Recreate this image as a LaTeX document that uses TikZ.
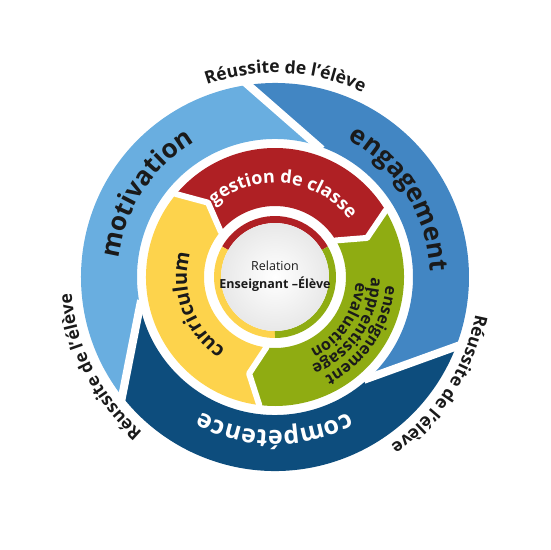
\documentclass[tikz,border=0pt]{standalone}
\usepackage{fontspec}
\setmainfont{Open Sans}
\usetikzlibrary{decorations.text,calc}

\definecolor{motivblue}{HTML}{69AEE0}
\definecolor{engagblue}{HTML}{4286C3}
\definecolor{competblue}{HTML}{0D4D7D}
\definecolor{gestred}{HTML}{AF2024}
\definecolor{curyellow}{HTML}{FDD34C}
\definecolor{evalgreen}{HTML}{8FAC12}
\definecolor{txtdark}{HTML}{1A1A1A}

\tikzset{
  arctext/.style={decorate, decoration={text along path, text align=center, text={#1}}},
  bluesep/.style={draw=white, line width=8},
  chevsep/.style={draw=white, line width=6, line join=round},
}

\begin{document}
\begin{tikzpicture}[x=1pt,y=1pt]
  \useasboundingbox (-275,-273) rectangle (275,277);
  \def\ro{194} \def\ri{138}
  \def\mo{129} \def\mi{71} \def\mm{100}

  % outer ring: motivation, engagement, competence
  \fill[motivblue] (218:\ro) arc[start angle=218,end angle=98,radius=\ro]
    -- (72:\ri) arc[start angle=72,end angle=192,radius=\ri] -- cycle;
  \fill[engagblue] (98:\ro) arc[start angle=98,end angle=-21,radius=\ro]
    -- (-47:\ri) arc[start angle=-47,end angle=72,radius=\ri] -- cycle;
  \fill[competblue] (-21:\ro) arc[start angle=-21,end angle=-142,radius=\ro]
    -- (-168:\ri) arc[start angle=-168,end angle=-47,radius=\ri] -- cycle;
  \foreach \a in {98,-21,-142}
    \draw[bluesep] ($(\a:\ro)!-0.15!(\a-26:\ri)$) -- ($(\a:\ro)!1.06!(\a-26:\ri)$);

  % middle ring: chevron arrows
  \fill[gestred] (140:\mo) arc[start angle=140,end angle=31,radius=\mo] -- (23:\mm)
    -- (31:\mi) arc[start angle=31,end angle=140,radius=\mi] -- (132:\mm) -- cycle;
  \fill[evalgreen] (31:\mo) arc[start angle=31,end angle=-97,radius=\mo] -- (-105:\mm)
    -- (-97:\mi) arc[start angle=-97,end angle=31,radius=\mi] -- (23:\mm) -- cycle;
  \fill[curyellow] (263:\mo) arc[start angle=263,end angle=140,radius=\mo] -- (132:\mm)
    -- (140:\mi) arc[start angle=140,end angle=263,radius=\mi] -- (255:\mm) -- cycle;
  \foreach \a in {140,31,263}
    \draw[chevsep] (\a:\mo+6) -- (\a:\mo) -- (\a-8:\mm) -- (\a:\mi) -- (\a:\mi-6);

  % inner ring and disc
  \draw[gestred, line width=7] (30:57.5) arc[start angle=30,end angle=150,radius=57.5];
  \draw[curyellow, line width=7] (150:57.5) arc[start angle=150,end angle=270,radius=57.5];
  \draw[evalgreen, line width=7] (270:57.5) arc[start angle=270,end angle=390,radius=57.5];
  \shade[inner color=white, outer color=gray!18] (0,0) circle (54);
  \node[align=center, text=txtdark, font=\fontsize{12.5}{18}\selectfont] (rel) at (0,1)
    {Relation\\\bfseries Enseignant –Élève};

  % texts along the rings
  \foreach \m in {87,-33,207}
    \path[arctext={|\fontsize{17.5}{17.5}\selectfont\bfseries\color{txtdark}|Réussite de l'élève}]
      (\m+60:204) arc[start angle=\m+60,end angle=\m-60,radius=204];
  \path[arctext={|\fontsize{26}{26}\selectfont\bfseries\color{txtdark}|motivation}]
    (207:157) arc[start angle=207,end angle=87,radius=157];
  \path[arctext={|\fontsize{26}{26}\selectfont\bfseries\color{txtdark}|engagement}]
    (92:155) arc[start angle=92,end angle=-28,radius=155];
  \path[arctext={|\fontsize{25}{25}\selectfont\bfseries\color{white}|compétence}]
    (-30:154) arc[start angle=-30,end angle=-150,radius=154];
  \path[arctext={|\fontsize{18}{18}\selectfont\bfseries\color{white}|gestion de classe}]
    (169:94) arc[start angle=169,end angle=-1,radius=94];
  \path[arctext={|\fontsize{20}{20}\selectfont\bfseries\color{txtdark}|curriculum}]
    (290:88) arc[start angle=290,end angle=110,radius=88];
  \foreach \r/\w in {111/enseignement,96/apprentissage,81/évaluation}
    \path[arctext={|\fontsize{16}{16}\selectfont\bfseries\color{txtdark}|\w}]
      (56:\r) arc[start angle=56,end angle=-124,radius=\r];
\end{tikzpicture}
\end{document}
